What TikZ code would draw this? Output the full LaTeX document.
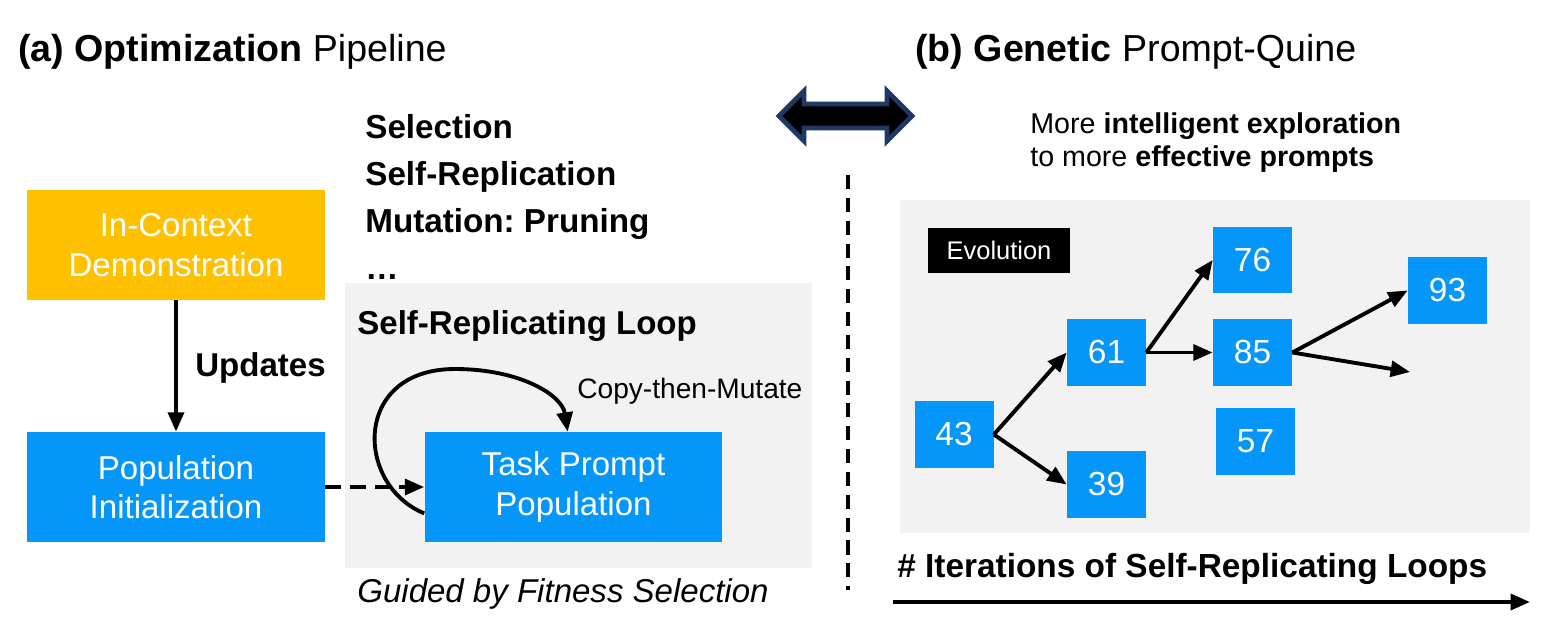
\documentclass[tikz,border=0pt]{standalone}
\usepackage{fontspec}
\setmainfont{Liberation Sans}
\usetikzlibrary{arrows.meta}
\definecolor{popblue}{RGB}{5,150,250}
\definecolor{demoorange}{RGB}{255,192,0}
\definecolor{loopgray}{RGB}{242,242,242}
\definecolor{navy}{RGB}{31,56,100}
\newcommand{\bodyfont}{\fontsize{18.8}{22.5}\selectfont}
\newcommand{\smallfont}{\fontsize{16}{18.8}\selectfont}
\frenchspacing

\begin{document}
\begin{tikzpicture}[x=0.02cm, y=0.02cm]
    \tikzset{
        bigbox/.style = {fill=#1, text=white, minimum width=5.96cm, minimum height=2.2cm,
            align=center, inner sep=0pt, font=\bodyfont},
        numbox/.style = {fill=popblue, text=white, minimum width=1.58cm, minimum height=1.34cm,
            inner sep=0pt, font=\fontsize{19}{22}\selectfont},
        label/.style = {anchor=west, inner sep=0pt, font=\bodyfont},
        arr/.style = {line width=2.2pt, -{Triangle[length=11pt, width=9pt]}}
    }
    \useasboundingbox (0,0) rectangle (1546,-626);

    \fill[loopgray] (345,-283) rectangle (812,-568);
    \fill[loopgray] (900,-200) rectangle (1530,-533);

    \node[label, font=\fontsize{21.4}{25}\selectfont] (titlea) at (18,-52)
        {\textbf{(a) Optimization} Pipeline};
    \node[label, font=\fontsize{21.4}{25}\selectfont] (titleb) at (915,-52)
        {\textbf{(b) Genetic} Prompt-Quine};

    \filldraw[fill=black, draw=navy, line width=2.8pt, line join=miter]
        (779,-116) -- (804,-91) -- (804,-104) -- (887,-104) -- (887,-91) -- (912,-116)
        -- (887,-141) -- (887,-128) -- (804,-128) -- (804,-141) -- cycle;
    \draw[line width=2pt, dash pattern=on 8pt off 5pt] (848,-175) -- (848,-590);

    \node[anchor=north west, inner sep=0pt, align=left, font=\bfseries\fontsize{18.9}{26.8}\selectfont] (ops) at (365,-114)
        {Selection\\Self-Replication\\Mutation: Pruning\\\dots};

    \node[bigbox=demoorange] (icd) at (176,-245) {In-Context\\Demonstration};
    \node[bigbox=popblue] (pop) at (176,-487) {Population\\Initialization};
    \node[bigbox=popblue] (tp) at (573.5,-487) {Task Prompt\\Population};

    \draw[arr] (icd) -- (pop);
    \node[label, font=\bfseries\bodyfont] (upd) at (195,-368) {Updates};
    \draw[arr, dash pattern=on 9pt off 5pt] (pop) -- (tp);

    \node[label, font=\bfseries\bodyfont] (srl) at (357,-326) {Self-Replicating Loop};
    \coordinate (looptop) at (455,-369);
    \draw[arr] (tp.190) .. controls (355,-485) and (352,-369) .. (looptop)
        .. controls (520,-369) and (562,-395) .. (tp.96);
    \node[label, font=\smallfont] (ctm) at (577,-391) {Copy-then-Mutate};
    \node[label, font=\itshape\bodyfont] (gfs) at (357,-594) {Guided by Fitness Selection};

    \node[anchor=north west, inner sep=0pt, align=left, font=\fontsize{16.3}{18.8}\selectfont] (more) at (1030,-112)
        {More \textbf{intelligent exploration}\\to more \textbf{effective prompts}};

    \node[fill=black, text=white, minimum width=2.84cm, minimum height=0.9cm, inner sep=0pt,
        font=\fontsize{14.5}{17}\selectfont] (evo) at (999,-250.5) {Evolution};

    \node[numbox] (n43) at (954,-434.5) {43};
    \node[numbox] (n61) at (1106.5,-352.5) {61};
    \node[numbox] (n39) at (1106.5,-484.5) {39};
    \node[numbox] (n76) at (1252.5,-260) {76};
    \node[numbox] (n85) at (1252.5,-352.5) {85};
    \node[numbox] (n57) at (1255.5,-441.5) {57};
    \node[numbox] (n93) at (1447.5,-290.5) {93};
    \coordinate (nfree) at (1410,-372);

    \draw[arr] (n43.east) -- (n61.west);
    \draw[arr] (n43.east) -- (n39.west);
    \draw[arr] (n61.east) -- (n76.west);
    \draw[arr] (n61.east) -- (n85.west);
    \draw[arr] (n85.east) -- (n93.west);
    \draw[arr] (n85.east) -- (nfree);

    \node[label, font=\bfseries\fontsize{19}{22}\selectfont] (iter) at (897,-569)
        {\# Iterations of Self-Replicating Loops};
    \coordinate (axs) at (893,-602);
    \coordinate (axe) at (1530,-602);
    \draw[arr] (axs) -- (axe);
\end{tikzpicture}
\end{document}
